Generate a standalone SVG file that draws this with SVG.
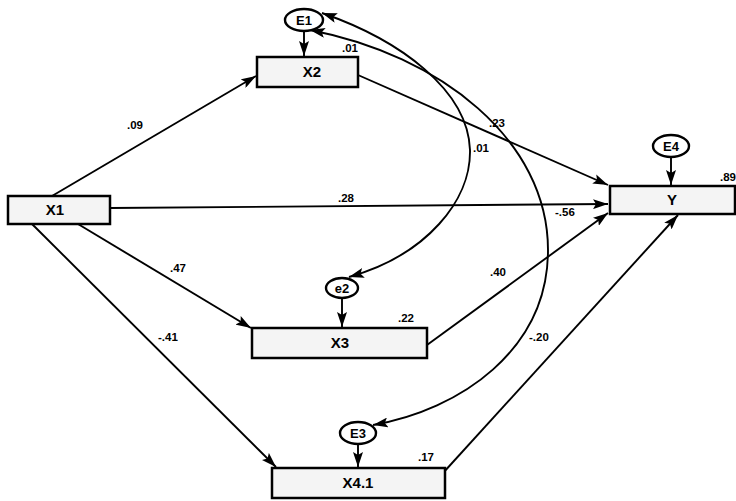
<svg xmlns="http://www.w3.org/2000/svg" width="736" height="501" viewBox="0 0 736 501">
<style>
.box{fill:#f4f4f4;stroke:#000;stroke-width:2.5}
.err{fill:#fff;stroke:#000;stroke-width:2.4}
.nl{font-family:"Liberation Sans",Arial,sans-serif;font-weight:bold;font-size:15px;text-anchor:middle;fill:#000}
.el{font-family:"Liberation Sans",Arial,sans-serif;font-weight:bold;font-size:13px;text-anchor:middle;fill:#000}
.lb{font-family:"Liberation Sans",Arial,sans-serif;font-weight:bold;font-size:11.5px;fill:#000}
.ln{fill:none;stroke:#000;stroke-width:1.9}
.a{marker-end:url(#ah)}
.b{marker-start:url(#ah);marker-end:url(#ah)}
</style>
<defs>
<marker id="ah" viewBox="0 0 15 10" refX="15" refY="5" markerWidth="15" markerHeight="10" markerUnits="userSpaceOnUse" orient="auto-start-reverse">
<path d="M0,0 L15,5 L0,10 L3,5 Z" fill="#000"/>
</marker>
</defs>
<rect width="736" height="501" fill="#fff"/>
<g id="connectors">
<line class="ln a" x1="52" y1="196" x2="256" y2="76"/>
<line class="ln a" x1="110" y1="208" x2="608" y2="204"/>
<line class="ln a" x1="78" y1="224" x2="251" y2="328"/>
<line class="ln a" x1="32" y1="224" x2="276" y2="467"/>
<line class="ln a" x1="358" y1="75" x2="608" y2="185"/>
<line class="ln a" x1="427" y1="345" x2="608" y2="213"/>
<line class="ln a" x1="443" y1="473" x2="678" y2="215"/>
<line class="ln a" x1="304" y1="31" x2="304" y2="56"/>
<line class="ln a" x1="342" y1="298" x2="342" y2="327"/>
<line class="ln a" x1="358" y1="444" x2="358" y2="467"/>
<line class="ln a" x1="671" y1="157" x2="671" y2="185"/>
<path class="ln b" d="M322,13 C400,40 468,90 470,150 C471,200 427,255 349,277"/>
<path class="ln b" d="M310,30 C440,55 548,140 548,250 C548,350 460,410 373,425"/>
</g>
<g id="X1"><rect class="box" x="8" y="196" width="102" height="28"/><text class="nl" x="55" y="215">X1</text></g>
<g id="X2"><rect class="box" x="257" y="57" width="101" height="30"/><text class="nl" x="312" y="77">X2</text></g>
<g id="X3"><rect class="box" x="252" y="328" width="175" height="30"/><text class="nl" x="340" y="348">X3</text></g>
<g id="X4"><rect class="box" x="272" y="468" width="173" height="30"/><text class="nl" x="358" y="488">X4.1</text></g>
<g id="Y"><rect class="box" x="610" y="186" width="125" height="28"/><text class="nl" x="672" y="205">Y</text></g>
<g id="E1"><ellipse class="err" cx="304" cy="20" rx="19" ry="11"/><text class="el" x="304" y="25">E1</text></g>
<g id="e2"><ellipse class="err" cx="342" cy="288" rx="16" ry="10"/><text class="el" x="342" y="293">e2</text></g>
<g id="E3"><ellipse class="err" cx="358" cy="433" rx="18" ry="11"/><text class="el" x="358" y="438">E3</text></g>
<g id="E4"><ellipse class="err" cx="671" cy="146" rx="18" ry="11"/><text class="el" x="671" y="151">E4</text></g>
<g id="labels">
<text class="lb" x="127" y="129">.09</text>
<text class="lb" x="338" y="202">.28</text>
<text class="lb" x="170" y="272">.47</text>
<text class="lb" x="158" y="341">-.41</text>
<text class="lb" x="490" y="276">.40</text>
<text class="lb" x="529" y="341">-.20</text>
<text class="lb" x="398" y="322">.22</text>
<text class="lb" x="418" y="461">.17</text>
<text class="lb" x="489" y="127">.23</text>
<text class="lb" x="473" y="152">.01</text>
<text class="lb" x="342" y="52">.01</text>
<text class="lb" x="720" y="181">.89</text>
<text class="lb" x="555" y="216">-.56</text>
</g>
</svg>
